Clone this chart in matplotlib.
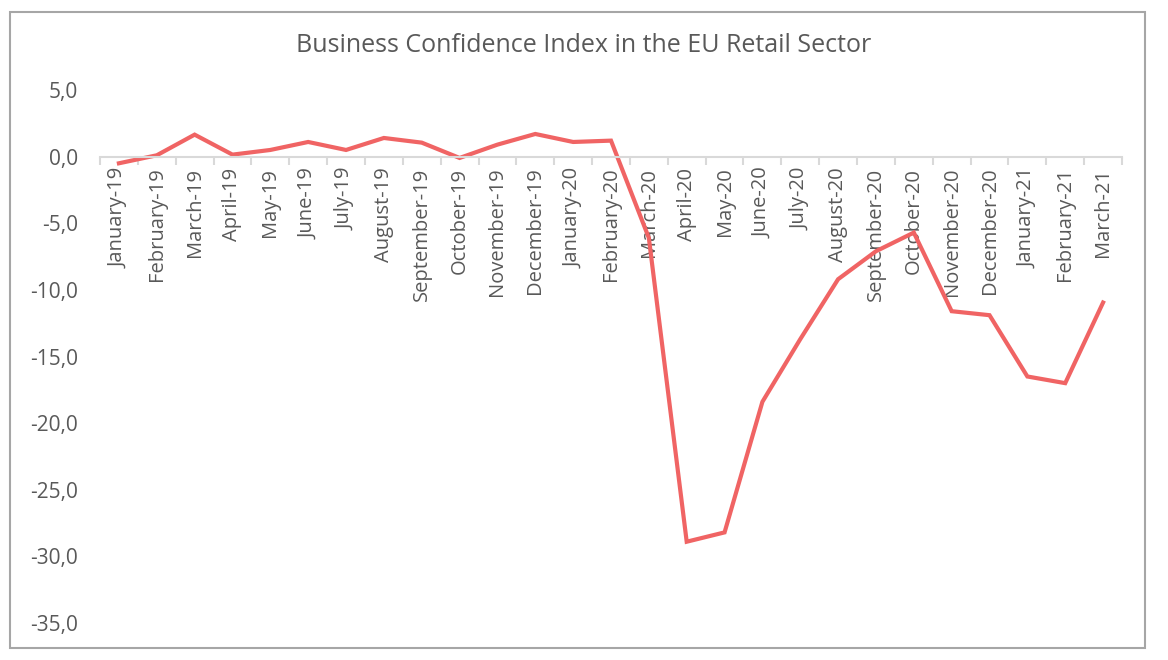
import matplotlib
matplotlib.use("Agg")
import matplotlib.pyplot as plt
from matplotlib.patches import Rectangle
from matplotlib.ticker import FuncFormatter

plt.rcParams['font.family'] = ['Open Sans', 'DejaVu Sans']

months = ["January-19", "February-19", "March-19", "April-19", "May-19", "June-19",
          "July-19", "August-19", "September-19", "October-19", "November-19",
          "December-19", "January-20", "February-20", "March-20", "April-20",
          "May-20", "June-20", "July-20", "August-20", "September-20", "October-20",
          "November-20", "December-20", "January-21", "February-21", "March-21"]
confidence = [-0.5, 0.1, 1.65, 0.15, 0.5, 1.1, 0.5, 1.4, 1.05, -0.1, 0.9, 1.7,
              1.1, 1.2, -6.1, -28.9, -28.2, -18.4, -13.7, -9.2, -7.1, -5.7,
              -11.6, -11.9, -16.5, -17.0, -10.95]

text_color = "#595959"
line_color = "#f06464"

fig = plt.figure(figsize=(11.68, 6.6), dpi=100)
ax = fig.add_axes([100 / 1168, 1 - 623 / 660, 1022 / 1168, 533 / 660])

# outer chart border
fig.patches.append(Rectangle((10 / 1168, 12 / 660), 1135 / 1168, 636 / 660,
                             transform=fig.transFigure, fill=False,
                             edgecolor="#a6a6a6", linewidth=1.5))

x = list(range(len(months)))
ax.plot(x, confidence, color=line_color, linewidth=3, solid_joinstyle="miter")

ax.set_xlim(-0.5, len(months) - 0.5)
ax.set_ylim(-35, 5)
ax.set_yticks(range(-35, 6, 5))
ax.yaxis.set_major_formatter(FuncFormatter(lambda v, p: f"{v:.1f}".replace(".", ",")))

for side in ["left", "right", "top"]:
    ax.spines[side].set_visible(False)
ax.spines["bottom"].set_position(("data", 0))
ax.spines["bottom"].set_color("#d9d9d9")
ax.spines["bottom"].set_linewidth(1.5)

ax.set_xticks(x)
ax.set_xticklabels(months, rotation=90)
ax.set_xticks([i - 0.5 for i in range(len(months) + 1)], minor=True)
ax.tick_params(axis="x", which="major", length=0, pad=8, labelsize=14.5, labelcolor=text_color)
ax.tick_params(axis="x", which="minor", length=6, width=1.5, color="#d9d9d9", direction="out")
ax.tick_params(axis="y", length=0, pad=16, labelsize=15, labelcolor=text_color)

fig.text(0.5, 1 - 45 / 660, "Business Confidence Index in the EU Retail Sector",
         ha="center", va="center", fontsize=18, color=text_color)

fig.savefig("out.png", dpi=100)
